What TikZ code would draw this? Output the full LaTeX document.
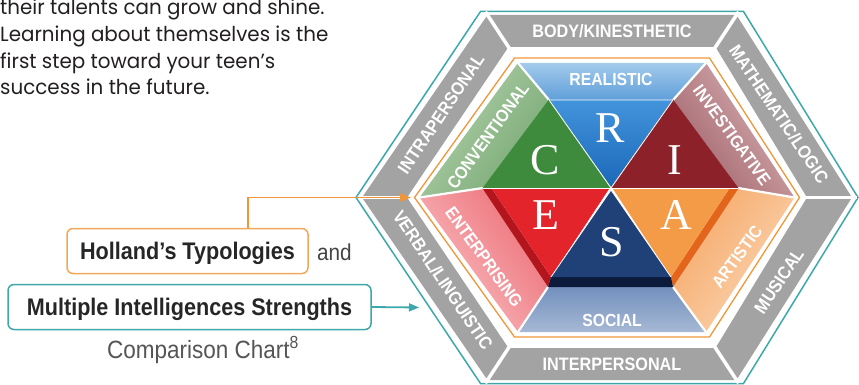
\documentclass[tikz,border=0pt]{standalone}
\usepackage{fontspec}
\setmainfont{Liberation Sans}
\newfontfamily\condf[FakeStretch=0.9]{Liberation Sans}
\newfontfamily\bodyf[FakeStretch=0.97]{Poppins}
\newfontfamily\letf{Liberation Serif}
\usetikzlibrary{arrows.meta,calc}
\definecolor{tealc}{HTML}{3DA8AB}
\definecolor{orangec}{HTML}{F0963A}
\definecolor{hollandc}{HTML}{F0A85A}
\definecolor{grayband}{HTML}{A3A3A3}
\definecolor{bodytxt}{HTML}{231F20}
\definecolor{andc}{HTML}{444444}
\definecolor{chartc}{HTML}{555555}
\definecolor{Rtop}{HTML}{4393DC}
\definecolor{Rbot}{HTML}{1A68B8}
\definecolor{Cgreen}{HTML}{3F8B3D}
\definecolor{Ired}{HTML}{8D2129}
\definecolor{Eface}{HTML}{E3242B}
\definecolor{Edark}{HTML}{B3151C}
\definecolor{Aface}{HTML}{F49B47}
\definecolor{Adark}{HTML}{E3651C}
\definecolor{Sface}{HTML}{1F4178}
\definecolor{Sbase}{HTML}{0C1A3C}
\definecolor{realTop}{HTML}{A3CAEC}
\definecolor{realBot}{HTML}{5F9FD9}
\definecolor{socTop}{HTML}{7390BE}
\definecolor{socBot}{HTML}{A6B8D4}
\definecolor{convIn}{HTML}{76A871}
\definecolor{convOut}{HTML}{B5D2AF}
\definecolor{invIn}{HTML}{A1626A}
\definecolor{invOut}{HTML}{D9B5B8}
\definecolor{entIn}{HTML}{EE6E77}
\definecolor{entOut}{HTML}{F8C3C6}
\definecolor{artIn}{HTML}{F5A867}
\definecolor{artOut}{HTML}{FCD8B8}
\begin{document}
\begin{tikzpicture}[x=1pt,y=-1pt,
  graylbl/.style={text=white,font=\condf\bfseries\fontsize{18}{18}\selectfont,inner sep=0pt},
  palelbl/.style={text=white,font=\condf\bfseries\fontsize{17.5}{18}\selectfont,inner sep=0pt},
  letter/.style={text=white,font=\letf\fontsize{44}{44}\selectfont,inner sep=0pt},
  bodyline/.style={anchor=base west,inner sep=0pt,text=bodytxt,font=\bodyf\fontsize{20.5}{20.5}\selectfont},
  tagbox/.style={rounded corners=6pt,line width=1.5pt,fill=white,inner sep=0pt,minimum height=45pt,text height=17pt,text depth=0pt,font=\condf\bfseries\fontsize{24}{24}\selectfont,text=black!85},
  tri/.style={draw=white,line width=0.7pt},
  gapline/.style={white,line width=#1},
]
\useasboundingbox (0,0) rectangle (859,385);
\clip (0,0) rectangle (859,385);
% teal outer hexagon
\coordinate (tL) at (356,197.5); \coordinate (tTL) at (480.5,11.5); \coordinate (tTR) at (743.5,11.5);
\coordinate (tR) at (858,197.5); \coordinate (tBR) at (743.5,383.5); \coordinate (tBL) at (480.5,383.5);
% gray outer
\coordinate (gL) at (362,197.5); \coordinate (gTL) at (487.5,15); \coordinate (gTR) at (736.5,15);
\coordinate (gR) at (852,197.5); \coordinate (gBR) at (736.5,380); \coordinate (gBL) at (487.5,380);
% gray inner
\coordinate (hL) at (407,197.5); \coordinate (hTL) at (508.5,47); \coordinate (hTR) at (715.5,47);
\coordinate (hR) at (807,197.5); \coordinate (hBR) at (715.5,348); \coordinate (hBL) at (508.5,348);
% orange
\coordinate (oL) at (414.5,197.5); \coordinate (oTL) at (514.5,58); \coordinate (oTR) at (709.5,58);
\coordinate (oR) at (799.5,197.5); \coordinate (oBR) at (709.5,337); \coordinate (oBL) at (514.5,337);
% pale
\coordinate (pL) at (419.5,197.5); \coordinate (pTL) at (518,63); \coordinate (pTR) at (706,63);
\coordinate (pR) at (794.5,197.5); \coordinate (pBR) at (706,332); \coordinate (pBL) at (518,332);
% triangle hexagon
\coordinate (qL) at (483,188); \coordinate (qTL) at (549,100); \coordinate (qTR) at (673,100);
\coordinate (qR) at (738,188); \coordinate (qBR) at (673,287); \coordinate (qBL) at (548,287);
\coordinate (qC) at (611,188);

\draw[tealc,line width=1.5pt] (tL)--(tTL)--(tTR)--(tR)--(tBR)--(tBL)--cycle;
\fill[grayband,even odd rule] (gL)--(gTL)--(gTR)--(gR)--(gBR)--(gBL)--cycle
  (hL)--(hTL)--(hTR)--(hR)--(hBR)--(hBL)--cycle;
\foreach \v in {L,TL,TR,R,BR,BL}{\draw[gapline=3.5pt] ($(h\v)!-0.1!(g\v)$) -- ($(h\v)!1.1!(g\v)$);}
\draw[orangec,line width=1.3pt] (oL)--(oTL)--(oTR)--(oR)--(oBR)--(oBL)--cycle;

% pale bands
\shade[top color=realTop,bottom color=realBot] (pTL)--(pTR)--(qTR)--(qTL)--cycle;
\shade[top color=socTop,bottom color=socBot] (pBL)--(pBR)--(qBR)--(qBL)--cycle;
\shade[top color=convOut,bottom color=convIn,shading angle=54] (pL)--(pTL)--(qTL)--(qL)--cycle;
\shade[top color=invOut,bottom color=invIn,shading angle=-54] (pTR)--(pR)--(qR)--(qTR)--cycle;
\shade[top color=entOut,bottom color=entIn,shading angle=126] (pBL)--(pL)--(qL)--(qBL)--cycle;
\shade[top color=artOut,bottom color=artIn,shading angle=-126] (pR)--(pBR)--(qBR)--(qR)--cycle;
\foreach \v in {L,TL,TR,R,BR,BL}{\draw[gapline=2.2pt] (q\v) -- (p\v);}

% triangles
\shade[tri,top color=Rtop,bottom color=Rbot] (qTL)--(qTR)--(qC)--cycle;
\fill[tri,Cgreen] (qTL)--(qC)--(qL)--cycle;
\fill[tri,Ired] (qTR)--(qR)--(qC)--cycle;
\coordinate (eA) at (492,189); \coordinate (eB) at (609,189); \coordinate (eC) at (551,277);
\coordinate (aA) at (613,189); \coordinate (aB) at (729,189); \coordinate (aC) at (671,277);
\coordinate (sA) at (611,190);
\fill[Edark] (483,189)--(eA)--(eC)--(qBL)--cycle;
\fill[Eface] (eA)--(eB)--(eC)--cycle;
\fill[Adark] (aB)--(738,189)--(qBR)--(aC)--cycle;
\fill[Aface] (aA)--(aB)--(aC)--cycle;
\fill[Sbase] (eC)--(aC)--(qBR)--(qBL)--cycle;
\fill[Sface] (sA)--(aC)--(eC)--cycle;
\draw[white,line width=0.8pt] (483,188.5)--(738,188.5);
\draw[white,line width=0.8pt] (qTL)--(qC)--(qTR);
\draw[white,line width=0.8pt] (eC)--(sA)--(aC);

% letters
\node[letter] (R) at (610,128) {R};
\node[letter] (C) at (545,160) {C};
\node[letter] (I) at (675,160) {I};
\node[letter] (E) at (546,215) {E};
\node[letter] (S) at (612,242) {S};
\node[letter] (A) at (676,215) {A};

% gray labels
\node[graylbl] (lbody) at (612,31) {BODY/KINESTHETIC};
\node[graylbl] (linter) at (612,364) {INTERPERSONAL};
\node[graylbl,rotate=56] (lintra) at (441,114) {INTRAPERSONAL};
\node[graylbl,rotate=-56] (lmath) at (779,114) {MATHEMATIC/LOGIC};
\node[graylbl,rotate=56] (lmus) at (779,281) {MUSICAL};
\node[graylbl,rotate=-56] (lverb) at (443,280) {VERBAL/LINGUISTIC};
% pale labels
\node[palelbl] (lreal) at (611,79) {REALISTIC};
\node[palelbl] (lsoc) at (612,320) {SOCIAL};
\node[palelbl,rotate=54] (lconv) at (488,136) {CONVENTIONAL};
\node[palelbl,rotate=-54] (linv) at (732,135) {INVESTIGATIVE};
\node[palelbl,rotate=-54] (lent) at (484,257) {ENTERPRISING};
\node[palelbl,rotate=54] (lart) at (737,257) {ARTISTIC};

% body text
\node[bodyline] (b1) at (0,15) {their talents can grow and shine.};
\node[bodyline] (b2) at (0,42) {Learning about themselves is the};
\node[bodyline] (b3) at (0,68.5) {first step toward your teen’s};
\node[bodyline] (b4) at (0,95) {success in the future.};

% boxes
\node[tagbox,draw=hollandc,minimum width=241pt] (holl) at (187.5,251) {Holland’s Typologies};
\node[tagbox,draw=tealc,minimum width=363pt] (multi) at (189.5,307) {Multiple Intelligences Strengths};
\node[anchor=base west,inner sep=0pt,text=andc,font=\condf\fontsize{23}{23}\selectfont] (andw) at (317,260) {and};
\node[anchor=base,inner sep=0pt,text=chartc,font=\condf\fontsize{25}{25}\selectfont] (chart) at (203,358) {Comparison Chart\textsuperscript{8}};

% connectors
\coordinate (ojoint) at (248,197.5);
\coordinate (otip) at (411,197.5);
\coordinate (ttip) at (419,307.5);
\draw[orangec,line width=1.8pt,-{Triangle[length=11pt,width=8pt]}] (holl.north -| ojoint) -- (ojoint) -- (otip);
\draw[tealc,line width=1.8pt,-{Triangle[length=10pt,width=8pt]}] (multi.east) -- (ttip);
\end{tikzpicture}
\end{document}
